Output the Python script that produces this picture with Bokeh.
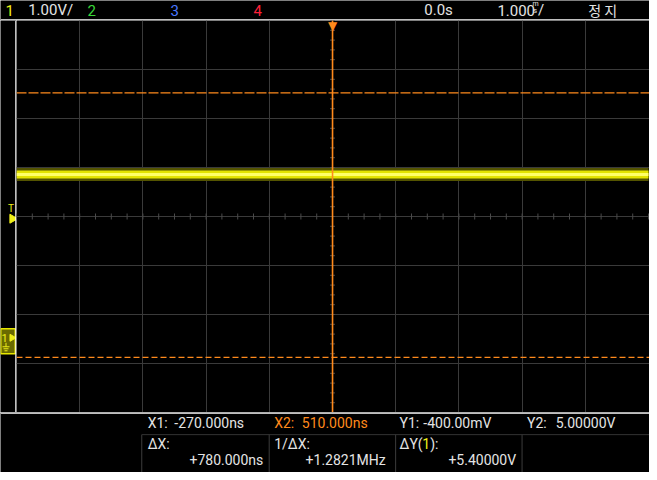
import math
import numpy as np
from bokeh.plotting import figure
from bokeh.layouts import column, row
from bokeh.models import Range1d, FixedTicker, Span
from bokeh.core.properties import value
from bokeh.embed import file_html
from bokeh.resources import INLINE

# ---------------- values ----------------
channel_labels = ["1", "2", "3", "4"]
channel_colors = ["#f0f018", "#39d839", "#4a78ff", "#ff2038"]
ch1_scale_text = "1.00V/"
volts_per_div = 1.00
ms_per_div = 1.000
n_xdiv = 10
n_ydiv = 8
screen_center_v = 2.475      # channel-1 voltage at the vertical centre of the screen
trig_time_ms = 0.0
trig_level_v = 2.43
ground_v = 0.0
ch1_t_ms = [-5.0, 5.0]
ch1_v = [3.33, 3.33]
cursor_x_ns = [-270.0, 510.0]   # X1, X2
cursor_y_v = [-0.400, 5.000]    # Y1, Y2
run_state = "정 지"

# ---------------- styling / layout ----------------
W, H = 649, 472
HEAD_H, FOOT_H = 20, 60
LEFT_W = 16
MAIN_W = W - LEFT_W
MAIN_H = H - HEAD_H - FOOT_H
ORANGE = "#ff8a1c"
YEL = "#f0f018"
TXT = "#e4e4e4"
GRID = "#3a3a3a"
FONT = "Roboto"
HB = 9.5          # header text baseline (reference px)
R1, R2, R3 = 430, 451, 467   # footer text baselines (reference px)


def make_fig(w, h, xr, yr):
    f = figure(width=w, height=h, x_range=xr, y_range=yr, output_backend="svg",
               toolbar_location=None, x_axis_location=None, y_axis_location=None,
               min_border=0, background_fill_color="black", border_fill_color="black",
               outline_line_color=None, title_location=None)
    return f


def put_text(f, x, y, s, color=TXT, size="14px", align="left", font=FONT, baseline="alphabetic"):
    f.text(x=[x], y=[y], text=[s], text_color=color, text_font=value(font),
           text_font_size=size, text_align=align, text_baseline=baseline)


# ---------------- main graticule ----------------
x_lo = trig_time_ms - n_xdiv / 2 * ms_per_div
x_hi = x_lo + n_xdiv * ms_per_div * (641 / 640)
y_lo = screen_center_v - n_ydiv / 2 * volts_per_div
y_hi = screen_center_v + n_ydiv / 2 * volts_per_div

p = make_fig(MAIN_W, MAIN_H, Range1d(x_lo, x_hi), Range1d(y_lo, y_hi))
p.xgrid.ticker = FixedTicker(ticks=[x_lo + k * ms_per_div for k in range(1, n_xdiv)])
p.ygrid.ticker = FixedTicker(ticks=[y_lo + k * volts_per_div for k in range(1, n_ydiv)])
p.grid.grid_line_color = GRID
p.grid.grid_line_width = 1

v_per_px = n_ydiv * volts_per_div / MAIN_H
ms_per_px = n_xdiv * ms_per_div / (MAIN_W * 640 / 641)

# minor ticks on the centre lines
mx = np.arange(x_lo, x_lo + n_xdiv * ms_per_div + 1e-9, ms_per_div / 4)
p.segment(x0=mx, y0=screen_center_v - 3 * v_per_px, x1=mx, y1=screen_center_v + 3 * v_per_px,
          line_color="#4a4a4a", line_width=1)
my = np.arange(y_lo, y_hi + 1e-9, volts_per_div / 5)
p.segment(x0=trig_time_ms - 2.5 * ms_per_px, y0=my, x1=trig_time_ms + 2.5 * ms_per_px, y1=my,
          line_color="#4a4a4a", line_width=1)

# channel 1 trace (persistence band)
p.line(ch1_t_ms, ch1_v, line_color="#545400", line_width=13)
p.line(ch1_t_ms, ch1_v, line_color="#e4e400", line_width=8)
p.line(ch1_t_ms, ch1_v, line_color="#ffff6a", line_width=3)

# cursors
p.add_layout(Span(location=cursor_y_v[1], dimension="width", line_color=ORANGE,
                  line_dash="10 2", line_width=1.3))
p.add_layout(Span(location=cursor_y_v[0], dimension="width", line_color=ORANGE,
                  line_dash="6 3", line_width=1.3))
p.add_layout(Span(location=cursor_x_ns[0] * 1e-6, dimension="height", line_color="#dddddd",
                  line_dash="4 4", line_width=1))
p.add_layout(Span(location=cursor_x_ns[1] * 1e-6, dimension="height", line_color=ORANGE,
                  line_width=1.6))

# trigger position marker at top
p.text(x=[trig_time_ms], y=[y_hi], text=["▼"], text_color=ORANGE, text_align="center",
       text_baseline="top", text_font=value("DejaVu Sans"), text_font_size="12px", y_offset=-2)

# ---------------- left strip (ground + trigger markers) ----------------
lf = make_fig(LEFT_W, MAIN_H, Range1d(0, LEFT_W), p.y_range)
lf.grid.visible = False
lf.add_layout(Span(location=LEFT_W - 0.5, dimension="height", line_color="white", line_width=1.5))

lf.rect(x=[7.5], y=[ground_v - 3.5 * v_per_px], width=14.5, height=25, height_units="screen",
        fill_color="#6a6a00", line_color="#e8e800", line_width=1.5)
lf.text(x=[1], y=[ground_v], text=[channel_labels[0]], text_color=YEL, text_font=value(FONT),
        text_font_size="11px", text_baseline="middle", text_align="left")
lf.scatter(x=[11.5], y=[ground_v], marker="triangle", angle=-math.pi / 2, size=7,
           fill_color=YEL, line_color=YEL)
g_x0 = [5.5, 2, 3, 4]
g_x1 = [5.5, 9, 8, 7]
g_y0 = [ground_v - 5 * v_per_px, ground_v - 9 * v_per_px, ground_v - 11 * v_per_px, ground_v - 13 * v_per_px]
g_y1 = [ground_v - 9 * v_per_px, ground_v - 9 * v_per_px, ground_v - 11 * v_per_px, ground_v - 13 * v_per_px]
lf.segment(x0=g_x0, y0=g_y0, x1=g_x1, y1=g_y1, line_color=YEL, line_width=1)

lf.scatter(x=[12], y=[trig_level_v], marker="triangle", angle=-math.pi / 2, size=9,
           fill_color=YEL, line_color=YEL)
lf.text(x=[10.5], y=[trig_level_v], text=["T"], text_color=YEL, text_font=value(FONT),
        text_font_size="10px", text_align="center", text_baseline="alphabetic", y_offset=-10)

# ---------------- header ----------------
hf = make_fig(W, HEAD_H, Range1d(0, 657), Range1d(20, 0))
hf.grid.visible = False
hf.add_layout(Span(location=19.5, dimension="width", line_color="white", line_width=1.5))
put_text(hf, 5, HB, channel_labels[0], channel_colors[0], "15px")
put_text(hf, 28, HB, ch1_scale_text, TXT, "15px")
put_text(hf, 88, HB, channel_labels[1], channel_colors[1], "15px")
put_text(hf, 172, HB, channel_labels[2], channel_colors[2], "15px")
put_text(hf, 256, HB, channel_labels[3], channel_colors[3], "15px")
put_text(hf, 429, HB, f"{trig_time_ms:.1f}s", TXT, "15px")
put_text(hf, 503, HB, f"{ms_per_div:.3f}", TXT, "15px")
put_text(hf, 538.5, HB - 6.5, "m", TXT, "7px")
put_text(hf, 539, HB, "s", TXT, "8px")
put_text(hf, 544, HB, "/", TXT, "15px")
put_text(hf, 595, HB, run_state, TXT, "14px", font="Noto Sans CJK KR")

# ---------------- footer (cursor readouts) ----------------
ff = make_fig(W, FOOT_H, Range1d(0, 657), Range1d(480, 419))
ff.grid.visible = False
ff.add_layout(Span(location=419.6, dimension="width", line_color="white", line_width=1.5))
ff.segment(x0=[143], y0=[441.5], x1=[657], y1=[441.5], line_color="#333333", line_width=1)
sep_x = [143, 272, 400, 528]
ff.segment(x0=sep_x, y0=[441.5] * 4, x1=sep_x, y1=[480] * 4, line_color="#3c3c3c", line_width=1)

dx_ns = cursor_x_ns[1] - cursor_x_ns[0]
inv_mhz = 1e3 / dx_ns
dy_v = cursor_y_v[1] - cursor_y_v[0]

put_text(ff, 149, R1, "X1:")
put_text(ff, 176, R1, f"{cursor_x_ns[0]:.3f}ns")
put_text(ff, 277, R1, "X2:", ORANGE)
put_text(ff, 305, R1, f"{cursor_x_ns[1]:.3f}ns", ORANGE)
put_text(ff, 404, R1, "Y1:")
put_text(ff, 428, R1, f"{cursor_y_v[0] * 1000:.2f}mV")
put_text(ff, 533, R1, "Y2:")
put_text(ff, 562, R1, f"{cursor_y_v[1]:.5f}V")

put_text(ff, 149, R2, "ΔX:")
put_text(ff, 266, R3, f"+{dx_ns:.3f}ns", align="right")
put_text(ff, 277, R2, "1/ΔX:")
put_text(ff, 390, R3, f"+{inv_mhz:.4f}MHz", align="right")
put_text(ff, 404, R2, "ΔY(")
put_text(ff, 427, R2, channel_labels[0], YEL)
put_text(ff, 435, R2, "):")
put_text(ff, 522, R3, f"+{dy_v:.5f}V", align="right")

layout = column(hf, row(lf, p), ff)
open("out.html", "w").write(file_html(layout, INLINE))
